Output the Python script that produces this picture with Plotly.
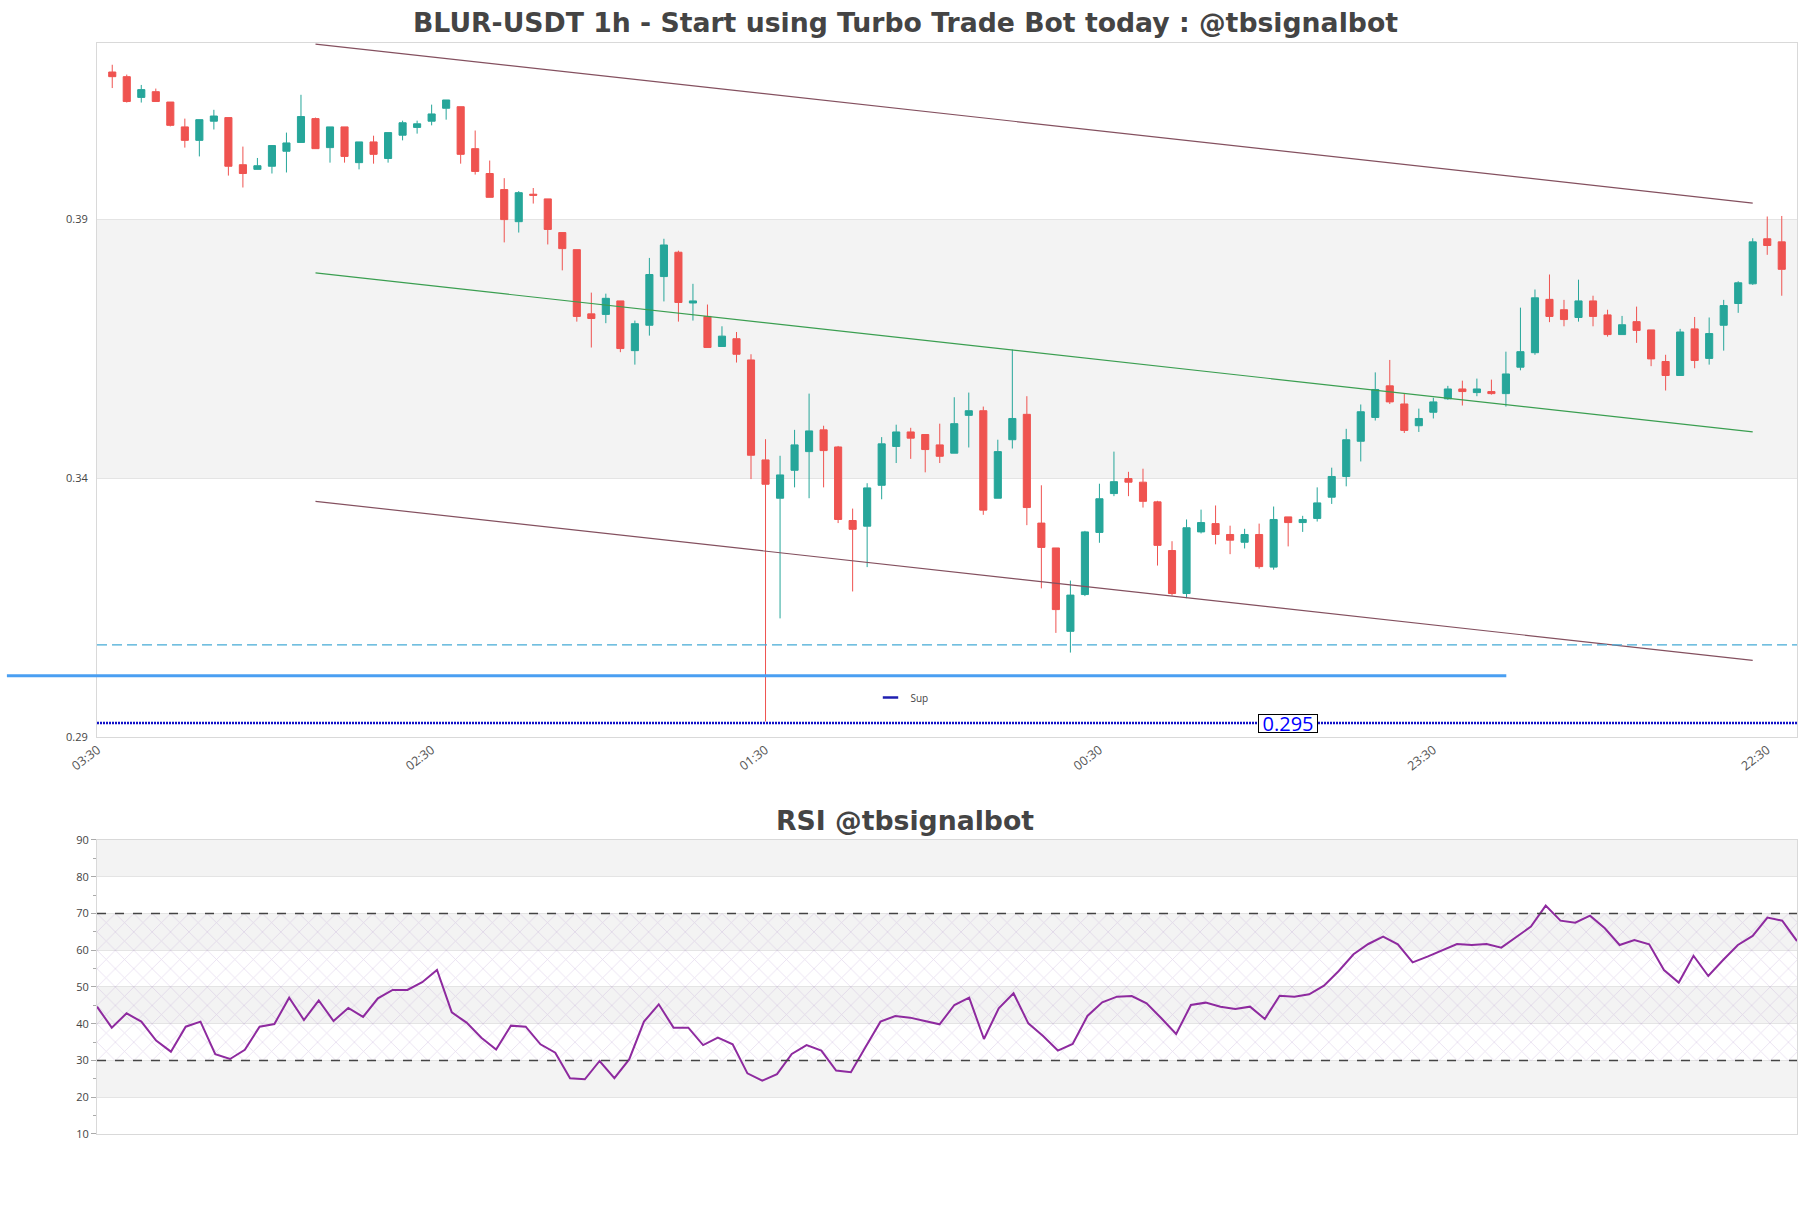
import pandas as pd
import plotly.graph_objects as go

## Data
start_time = '2023-07-10 04:30'

opens = [0.4184, 0.4175, 0.4135, 0.4146, 0.4126, 0.4078, 0.4052, 0.4089, 0.4096, 0.4005,
         0.3996, 0.4002, 0.4031, 0.4048, 0.4094, 0.4038, 0.4078, 0.4009, 0.4049, 0.4017,
         0.4062, 0.4077, 0.4089, 0.4114, 0.4117, 0.4036, 0.3988, 0.3957, 0.3895, 0.3948,
         0.3939, 0.3874, 0.3841, 0.3717, 0.3716, 0.3742, 0.3646, 0.3695, 0.3789, 0.3836,
         0.3738, 0.3712, 0.3654, 0.3669, 0.3628, 0.3435, 0.3361, 0.3415, 0.3451, 0.3493,
         0.3460, 0.3318, 0.3307, 0.3386, 0.3461, 0.3489, 0.3484, 0.3464, 0.3448, 0.3521,
         0.3530, 0.3361, 0.3474, 0.3523, 0.3313, 0.3265, 0.3104, 0.3175, 0.3295, 0.3370,
         0.3399, 0.3392, 0.3354, 0.3260, 0.3177, 0.3296, 0.3312, 0.3291, 0.3276, 0.3291,
         0.3228, 0.3325, 0.3314, 0.3322, 0.3363, 0.3403, 0.3471, 0.3517, 0.3578, 0.3543,
         0.3501, 0.3527, 0.3553, 0.3572, 0.3565, 0.3567, 0.3563, 0.3614, 0.3642, 0.3745,
         0.3725, 0.3710, 0.3742, 0.3715, 0.3677, 0.3702, 0.3686, 0.3625, 0.3598, 0.3688,
         0.3631, 0.3695, 0.3737, 0.3775, 0.3862, 0.3856]
highs = [0.4198, 0.4179, 0.4159, 0.4152, 0.4126, 0.4094, 0.4092, 0.4111, 0.4096, 0.4040,
         0.4018, 0.4043, 0.4067, 0.4140, 0.4096, 0.4078, 0.4078, 0.4049, 0.4061, 0.4067,
         0.4090, 0.4090, 0.4121, 0.4130, 0.4117, 0.4071, 0.4013, 0.3979, 0.3954, 0.3960,
         0.3939, 0.3874, 0.3841, 0.3758, 0.3756, 0.3742, 0.3704, 0.3825, 0.3862, 0.3839,
         0.3775, 0.3735, 0.3693, 0.3682, 0.3639, 0.3475, 0.3443, 0.3493, 0.3563, 0.3501,
         0.3462, 0.3341, 0.3390, 0.3479, 0.3503, 0.3497, 0.3484, 0.3505, 0.3556, 0.3565,
         0.3538, 0.3474, 0.3648, 0.3558, 0.3386, 0.3265, 0.3202, 0.3298, 0.3389, 0.3451,
         0.3412, 0.3418, 0.3356, 0.3278, 0.3320, 0.3339, 0.3347, 0.3308, 0.3302, 0.3312,
         0.3345, 0.3325, 0.3327, 0.3382, 0.3420, 0.3495, 0.3542, 0.3604, 0.3628, 0.3563,
         0.3534, 0.3555, 0.3578, 0.3588, 0.3592, 0.3590, 0.3644, 0.3729, 0.3764, 0.3793,
         0.3744, 0.3783, 0.3752, 0.3725, 0.3713, 0.3731, 0.3686, 0.3638, 0.3688, 0.3711,
         0.3710, 0.3744, 0.3780, 0.3863, 0.3905, 0.3906]
lows = [0.4153, 0.4125, 0.4125, 0.4127, 0.4079, 0.4038, 0.4021, 0.4073, 0.3984, 0.3961,
        0.3996, 0.3988, 0.3990, 0.4048, 0.4036, 0.4009, 0.4009, 0.3996, 0.4007, 0.4009,
        0.4052, 0.4065, 0.4081, 0.4092, 0.4007, 0.3986, 0.3942, 0.3855, 0.3874, 0.3930,
        0.3851, 0.3801, 0.3702, 0.3652, 0.3699, 0.3643, 0.3619, 0.3675, 0.3741, 0.3702,
        0.3704, 0.3652, 0.3654, 0.3623, 0.3398, 0.2930, 0.3129, 0.3382, 0.3361, 0.3382,
        0.3313, 0.3181, 0.3228, 0.3359, 0.3429, 0.3437, 0.3411, 0.3429, 0.3448, 0.3459,
        0.3329, 0.3361, 0.3457, 0.3309, 0.3187, 0.3101, 0.3063, 0.3172, 0.3275, 0.3365,
        0.3365, 0.3343, 0.3231, 0.3173, 0.3168, 0.3293, 0.3272, 0.3253, 0.3264, 0.3225,
        0.3223, 0.3268, 0.3296, 0.3316, 0.3350, 0.3384, 0.3432, 0.3511, 0.3543, 0.3487,
        0.3489, 0.3515, 0.3551, 0.3540, 0.3558, 0.3561, 0.3538, 0.3608, 0.3638, 0.3701,
        0.3693, 0.3702, 0.3693, 0.3673, 0.3677, 0.3661, 0.3616, 0.3569, 0.3598, 0.3612,
        0.3619, 0.3646, 0.3719, 0.3773, 0.3831, 0.3752]
closes = [0.4175, 0.4127, 0.4150, 0.4127, 0.4081, 0.4052, 0.4092, 0.4099, 0.4002, 0.3988,
          0.4003, 0.4042, 0.4047, 0.4098, 0.4036, 0.4078, 0.4021, 0.4049, 0.4025, 0.4067,
          0.4086, 0.4084, 0.4103, 0.4130, 0.4025, 0.3992, 0.3942, 0.3899, 0.3951, 0.3946,
          0.3880, 0.3843, 0.3712, 0.3708, 0.3747, 0.3650, 0.3698, 0.3793, 0.3850, 0.3739,
          0.3742, 0.3652, 0.3674, 0.3639, 0.3444, 0.3388, 0.3406, 0.3464, 0.3491, 0.3453,
          0.3320, 0.3301, 0.3381, 0.3466, 0.3489, 0.3477, 0.3455, 0.3442, 0.3505, 0.3530,
          0.3338, 0.3451, 0.3515, 0.3343, 0.3266, 0.3146, 0.3174, 0.3296, 0.3360, 0.3393,
          0.3392, 0.3355, 0.3270, 0.3177, 0.3304, 0.3314, 0.3291, 0.3280, 0.3291, 0.3229,
          0.3320, 0.3314, 0.3320, 0.3352, 0.3403, 0.3474, 0.3528, 0.3571, 0.3547, 0.3492,
          0.3515, 0.3547, 0.3572, 0.3567, 0.3572, 0.3563, 0.3601, 0.3644, 0.3748, 0.3712,
          0.3706, 0.3742, 0.3712, 0.3677, 0.3696, 0.3685, 0.3630, 0.3598, 0.3682, 0.3627,
          0.3679, 0.3733, 0.3777, 0.3856, 0.3849, 0.3803]

rsi_values = [44.65, 38.94, 42.83, 40.57, 35.4, 32.4, 39.2, 40.57, 31.7, 30.4,
              32.9, 39.2, 39.93, 47.1, 41.02, 46.37, 40.75, 44.29, 41.84, 46.9,
              49.2, 49.2, 51.3, 54.63, 43.1, 40.3, 36.2, 33.0, 39.48, 39.2,
              34.4, 32.13, 25.15, 24.88, 29.87, 25.2, 30.3, 40.57, 45.28, 38.94,
              38.94, 34.2, 36.2, 34.4, 26.5, 24.5, 26.3, 31.77, 34.2, 32.7,
              27.25, 26.8, 33.77, 40.57, 42.11, 41.66, 40.75, 39.84, 45.1, 47.1,
              35.85, 44.2, 48.3, 40.11, 36.67, 32.7, 34.5, 42.11, 45.83, 47.37,
              47.55, 45.56, 41.48, 37.2, 45.1, 45.74, 44.65, 44.0, 44.65, 41.3,
              47.64, 47.37, 48.0, 50.37, 54.35, 58.9, 61.7, 63.7, 61.6, 56.7,
              58.25, 60.07, 61.7, 61.43, 61.7, 60.7, 63.5, 66.42, 72.13, 68.05,
              67.5, 69.4, 65.97, 61.43, 62.79, 61.6, 54.6, 51.2, 58.5, 53.0,
              57.35, 61.43, 63.88, 68.87, 68.05, 62.5]

# channel (start candle, end candle) and levels
channel_idx = [14, 113]
channel_upper = [0.4238, 0.3931]
channel_mid = [0.3796, 0.3489]
channel_lower = [0.3355, 0.3048]

support_level = 0.2927
support_label = '0.295'
dashed_level = 0.3078
zone_level = 0.3018
rsi_levels = [30, 70]

times = pd.date_range(start_time, periods=len(closes), freq='h')
hour = pd.Timedelta(hours=1)

## Styling
inc_col = '#26a69a'
dec_col = '#ef5350'
band_col = '#f3f3f3'
frame_col = '#d9d9d9'
grid_col = '#e4e4e4'
title_font = dict(family='DejaVu Sans', size=26.7, color='#444', weight='bold')

fig = go.Figure()

fig.add_trace(go.Candlestick(
    x=times, open=opens, high=highs, low=lows, close=closes,
    increasing=dict(line=dict(color=inc_col, width=1), fillcolor=inc_col),
    decreasing=dict(line=dict(color=dec_col, width=1), fillcolor=dec_col),
    whiskerwidth=0, showlegend=False, hoverinfo='skip'
))

ch_x = [times[channel_idx[0]], times[channel_idx[1]]]
for ys, col in [(channel_upper, '#84505f'), (channel_mid, '#3a9e50'), (channel_lower, '#84505f')]:
    fig.add_trace(go.Scatter(x=ch_x, y=ys, mode='lines', line=dict(color=col, width=1.2),
                             showlegend=False, hoverinfo='skip'))

# legend entry for the support line
fig.add_trace(go.Scatter(x=[times[0]], y=[0.2], mode='markers', name='Sup',
                         marker=dict(symbol='line-ew', size=11, line=dict(color='#1f1fb0', width=2.5))))

# RSI
fig.add_trace(go.Scatter(
    x=[times[0], times[-1], times[-1], times[0]], y=[30, 30, 70, 70],
    fill='toself', mode='lines', line=dict(width=0), fillcolor='rgba(0,0,0,0)',
    fillpattern=dict(shape='x', fgcolor='rgba(165,130,195,0.55)', bgcolor='rgba(0,0,0,0)',
                     size=13, solidity=0.12),
    xaxis='x2', yaxis='y2', showlegend=False, hoverinfo='skip'
))
fig.add_trace(go.Scatter(x=times, y=rsi_values, mode='lines', line=dict(color='#8e2a9f', width=2),
                         xaxis='x2', yaxis='y2', showlegend=False))

shapes = []
for lo, hi in [(0.34, 0.39)]:
    shapes.append(dict(type='rect', xref='x domain', yref='y', x0=0, x1=1, y0=lo, y1=hi,
                       fillcolor=band_col, line_width=0, layer='below'))
for lo, hi in [(20, 30), (40, 50), (60, 70), (80, 90)]:
    shapes.append(dict(type='rect', xref='x2 domain', yref='y2', x0=0, x1=1, y0=lo, y1=hi,
                       fillcolor=band_col, line_width=0, layer='below'))
for lvl in rsi_levels:
    shapes.append(dict(type='line', xref='x2 domain', yref='y2', x0=0, x1=1, y0=lvl, y1=lvl,
                       line=dict(color='#444', width=1.3, dash='dash')))
shapes += [
    dict(type='line', xref='x domain', yref='y', x0=0, x1=1, y0=dashed_level, y1=dashed_level,
         line=dict(color='#45abd6', width=1.3, dash='10px,5px')),
    dict(type='line', xref='paper', yref='y', x0=-0.053, x1=0.829, y0=zone_level, y1=zone_level,
         line=dict(color='#4a9ff2', width=3)),
    dict(type='line', xref='x domain', yref='y', x0=0, x1=1, y0=support_level, y1=support_level,
         line=dict(color='#1010c8', width=2.5, dash='2px,1px')),
]

fig.update_layout(
    width=1811, height=1208,
    margin=dict(l=97, r=14, t=43, b=74),
    paper_bgcolor='white', plot_bgcolor='white',
    font=dict(family='Open Sans', color='#444'),
    title=dict(text='BLUR-USDT 1h - Start using Turbo Trade Bot today : @tbsignalbot',
               x=0.5, xref='container', xanchor='center', y=1 - 23 / 1208, yanchor='middle',
               font=title_font),
    shapes=shapes,
    showlegend=True,
    legend=dict(x=0.455, y=0.40, xanchor='left', yanchor='middle', bgcolor='rgba(0,0,0,0)',
                font=dict(size=10, color='#444')),
    annotations=[
        dict(text='RSI @tbsignalbot', xref='paper', yref='paper', x=0.475, y=0.2878,
             showarrow=False, font=title_font, xanchor='center', yanchor='middle'),
        dict(text=support_label, x=times[81], y=support_level, xref='x', yref='y',
             showarrow=False, font=dict(size=20, color='#0000ff'), bgcolor='white',
             bordercolor='black', borderwidth=1, borderpad=0, width=58, height=17),
    ],
    xaxis=dict(
        domain=[0, 1], anchor='y', type='date',
        range=[times[0] - 1.05 * hour, times[-1] + 1.05 * hour],
        tickvals=[times[0] - hour + k * 23 * hour for k in range(6)],
        tickformat='%H:%M', tickangle=-37, tickfont=dict(size=12.5, color='#555'),
        showgrid=False, showline=True, mirror=True, linecolor=frame_col,
        rangeslider=dict(visible=False), zeroline=False
    ),
    yaxis=dict(
        domain=[0.3639, 1], anchor='x', range=[0.29, 0.424], tick0=0.29, dtick=0.05,
        tickformat='.2f', showgrid=True, gridcolor=grid_col, showline=True, mirror=True,
        linecolor=frame_col, ticks='outside', ticklen=6, tickcolor='rgba(0,0,0,0)',
        tickfont=dict(size=11, color='#444'), zeroline=False
    ),
    xaxis2=dict(
        domain=[0, 1], anchor='y2', type='date', range=[times[0], times[-1]],
        showticklabels=False, showgrid=False, showline=True, mirror=True, linecolor=frame_col,
        zeroline=False
    ),
    yaxis2=dict(
        domain=[0, 0.2695], anchor='x2', range=[10, 90], dtick=10,
        showgrid=True, gridcolor=grid_col, showline=True, mirror=True, linecolor=frame_col,
        ticks='outside', ticklen=5, tickcolor='#aaa', tickfont=dict(size=11, color='#444'),
        minor=dict(dtick=5, ticks='outside', ticklen=3, tickcolor='#aaa', showgrid=False),
        zeroline=False
    ),
)

fig.write_html("out.html", config={'displayModeBar': False},
               post_script="document.body.style.margin='0px';document.body.style.overflow='hidden';")
